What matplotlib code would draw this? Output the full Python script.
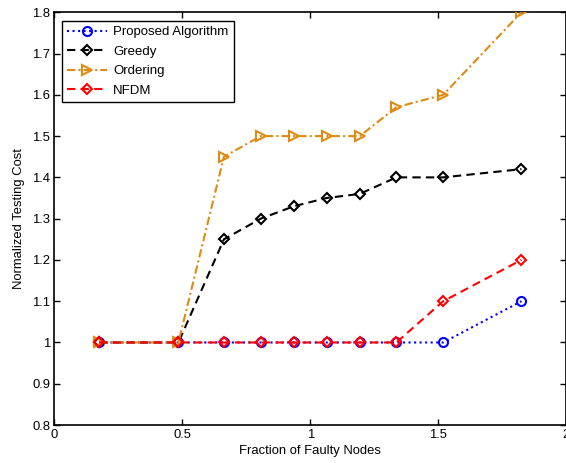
import matplotlib
matplotlib.use("Agg")
import matplotlib.pyplot as plt
from matplotlib.ticker import FuncFormatter

plt.rcParams['font.family'] = ['Liberation Sans', 'DejaVu Sans']

x = [0.176, 0.485, 0.663, 0.807, 0.936, 1.064, 1.194, 1.337, 1.520, 1.826]
proposed = [1.0, 1.0, 1.0, 1.0, 1.0, 1.0, 1.0, 1.0, 1.0, 1.10]
greedy = [1.0, 1.0, 1.25, 1.30, 1.33, 1.35, 1.36, 1.40, 1.40, 1.42]
ordering = [1.0, 1.0, 1.45, 1.50, 1.50, 1.50, 1.50, 1.57, 1.60, 1.80]
nfdm = [1.0, 1.0, 1.0, 1.0, 1.0, 1.0, 1.0, 1.0, 1.10, 1.20]

xticks = [0, 0.5, 1, 1.5, 2]
yticks = [0.8, 0.9, 1.0, 1.1, 1.2, 1.3, 1.4, 1.5, 1.6, 1.7, 1.8]

fig = plt.figure(figsize=(5.66, 4.63), dpi=100)
ax = fig.add_axes([0.096, 0.082, 0.904, 0.8915])

orange = '#DF8A13'
lw = 1.5
mew = 1.5
ax.plot(x, proposed, color='blue', linestyle=':', linewidth=lw, marker='o',
        markersize=6.5, markerfacecolor='none', markeredgewidth=mew,
        label='Proposed Algorithm', zorder=3)
ax.plot(x, greedy, color='black', linestyle=(0, (4, 2.5)), linewidth=lw, marker='D',
        markersize=5, markerfacecolor='none', markeredgewidth=mew,
        label='Greedy', zorder=3)
ax.plot(x, ordering, color=orange, linestyle=(0, (4, 1.5, 1, 1.5)), linewidth=lw, marker='>',
        markersize=7, markerfacecolor='none', markeredgewidth=mew,
        label='Ordering', zorder=3)
ax.plot(x, nfdm, color='red', linestyle=(0, (4, 2.5)), linewidth=lw, marker='D',
        markersize=5, markerfacecolor='none', markeredgewidth=mew,
        label='NFDM', zorder=4)

ax.set_xlim(0, 2)
ax.set_ylim(0.8, 1.8)
ax.set_xticks(xticks)
ax.set_yticks(yticks)
fmt = FuncFormatter(lambda v, p: ('%g' % round(v, 2)))
ax.xaxis.set_major_formatter(fmt)
ax.yaxis.set_major_formatter(fmt)
ax.tick_params(direction='in', top=True, right=True, labelsize=9.4, length=4.5, width=1,
               pad=3)
for s in ax.spines.values():
    s.set_linewidth(1.2)

ax.set_xlabel('Fraction of Faulty Nodes', fontsize=9.4, labelpad=3)
ax.set_ylabel('Normalized Testing Cost', fontsize=9.4, labelpad=5)

leg = ax.legend(loc='upper left', bbox_to_anchor=(0.0145, 0.979), fontsize=9.5,
                frameon=True, fancybox=False, edgecolor='black', framealpha=1,
                handlelength=3.0, handletextpad=0.5, borderpad=0.4,
                labelspacing=0.55, borderaxespad=0)
leg.get_frame().set_linewidth(1.0)

fig.savefig('out.png', dpi=100)
